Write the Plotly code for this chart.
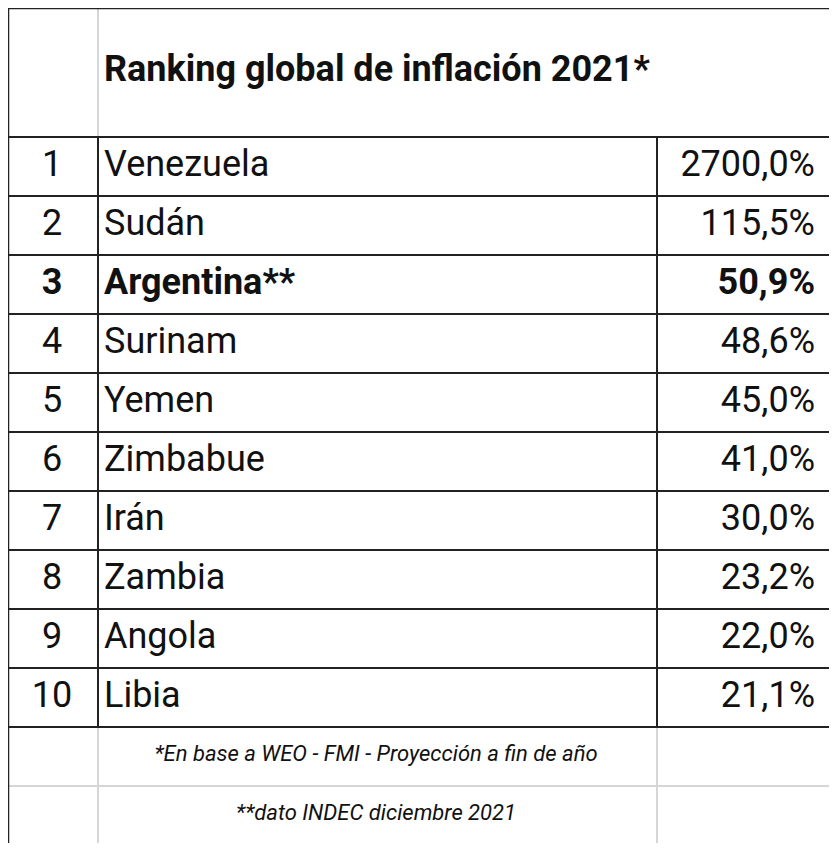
import plotly.graph_objects as go

title = "Ranking global de inflación 2021*"
ranks = ["1", "2", "3", "4", "5", "6", "7", "8", "9", "10"]
countries = ["Venezuela", "Sudán", "Argentina**", "Surinam", "Yemen", "Zimbabue", "Irán", "Zambia", "Angola", "Libia"]
values = ["2700,0%", "115,5%", "50,9%", "48,6%", "45,0%", "41,0%", "30,0%", "23,2%", "22,0%", "21,1%"]
notes = ["*En base a WEO - FMI - Proyección a fin de año", "**dato INDEC diciembre 2021"]
highlight = "Argentina**"

W, H = 837, 851
OFF = 8  # page body margin
L, C1, C2, R = 8, 98, 657, 831
TOP, HDR = 8, 137
ROWH = 59
rows_y = [HDR + i * ROWH for i in range(len(ranks) + 1)]
foot_y = [rows_y[-1], rows_y[-1] + ROWH, 845]

fig = go.Figure()
shapes = []
light = dict(color="#d6d6d6", width=2)
dark = dict(color="#222222", width=2)
shapes.append(dict(type="rect", x0=0, x1=W, y0=848, y1=H, fillcolor="#eeeeee", line=dict(width=0), layer="below"))
for x in (C1, C2):
    shapes.append(dict(type="line", x0=x, x1=x, y0=0, y1=TOP, line=light))
shapes.append(dict(type="line", x0=C1, x1=C1, y0=TOP, y1=HDR, line=light))
shapes.append(dict(type="line", x0=0, x1=L, y0=HDR, y1=HDR, line=light))
for y in foot_y[:2]:
    shapes.append(dict(type="line", x0=0, x1=L, y0=y, y1=y, line=light))
for x in (C1, C2):
    shapes.append(dict(type="line", x0=x, x1=x, y0=foot_y[0], y1=foot_y[2], line=light))
shapes.append(dict(type="line", x0=L, x1=R, y0=foot_y[1], y1=foot_y[1], line=light))
for y in rows_y:
    shapes.append(dict(type="line", x0=L, x1=R, y0=y, y1=y, line=dark))
for x in (C1, C2):
    shapes.append(dict(type="line", x0=x, x1=x, y0=rows_y[0], y1=rows_y[-1], line=dark))
shapes.append(dict(type="rect", x0=L, x1=R, y0=TOP, y1=845, line=dict(color="#222222", width=2.5)))

def txt(s, bold):
    return f"<b>{s}</b>" if bold else s

centers = [rows_y[i] + ROWH / 2 for i in range(len(ranks))]
bolds = [c == highlight for c in countries]
font = dict(family="Roboto", size=36, color="#111111")
fig.add_trace(go.Scatter(x=[52] * len(ranks), y=centers, mode="text",
                         text=[txt(r, b) for r, b in zip(ranks, bolds)],
                         textposition="middle center", textfont=font, hoverinfo="skip"))
fig.add_trace(go.Scatter(x=[104] * len(ranks), y=centers, mode="text",
                         text=[txt(c, b) for c, b in zip(countries, bolds)],
                         textposition="middle right", textfont=font, hoverinfo="skip"))
fig.add_trace(go.Scatter(x=[815] * len(ranks), y=centers, mode="text",
                         text=[txt(v, b) for v, b in zip(values, bolds)],
                         textposition="middle left", textfont=font, hoverinfo="skip"))
fig.add_trace(go.Scatter(x=[104], y=[72], mode="text", text=[f"<b>{title}</b>"],
                         textposition="middle right",
                         textfont=dict(family="Roboto", size=36, color="#111111"), hoverinfo="skip"))
fig.add_trace(go.Scatter(x=[376] * 2, y=[foot_y[0] + 28, foot_y[1] + 28], mode="text",
                         text=[f"<i>{n}</i>" for n in notes], textposition="middle center",
                         textfont=dict(family="Roboto", size=22, color="#111111"), hoverinfo="skip"))

fig.update_layout(width=W - 2 * OFF, height=H - 2 * OFF, margin=dict(l=0, r=0, t=0, b=0),
                  paper_bgcolor="white", plot_bgcolor="white", showlegend=False,
                  shapes=shapes,
                  xaxis=dict(range=[OFF, W - OFF], visible=False, fixedrange=True),
                  yaxis=dict(range=[H - OFF, OFF], visible=False, fixedrange=True))
fig.write_html("out.html")
